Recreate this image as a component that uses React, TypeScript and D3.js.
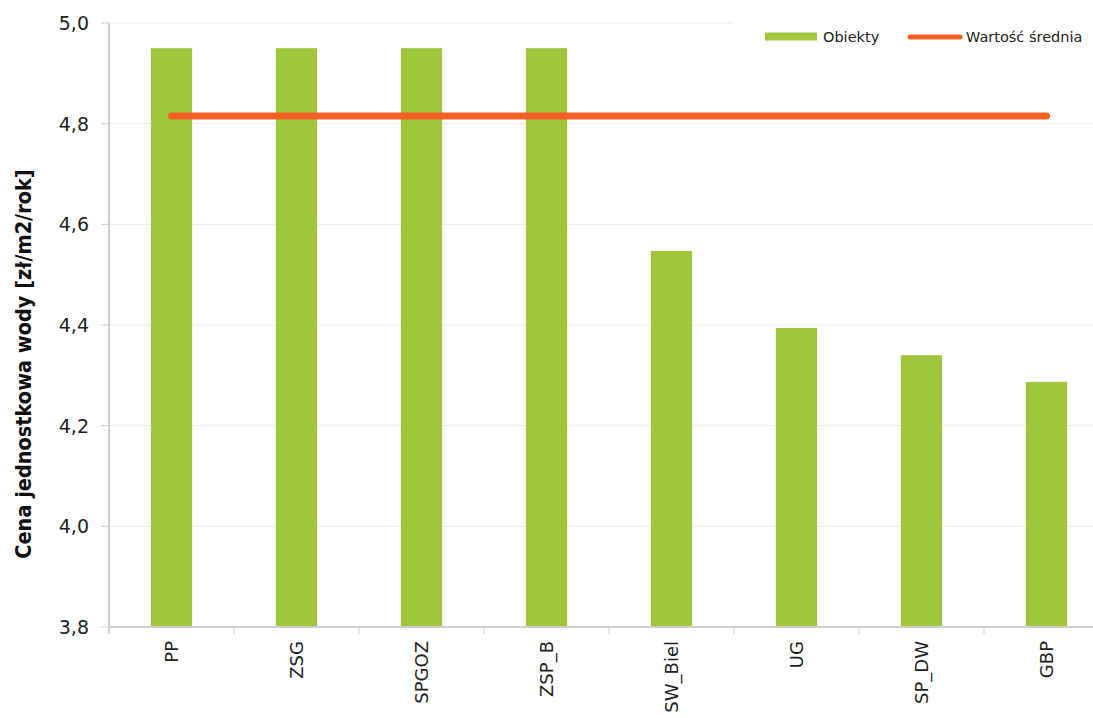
import React from "react";
import * as d3 from "d3";

const categories = ["PP", "ZSG", "SPGOZ", "ZSP_B", "SW_Biel", "UG", "SP_DW", "GBP"];
const objectValues = [4.95, 4.95, 4.95, 4.95, 4.547, 4.394, 4.34, 4.287];
const meanValue = 4.815;
const yTicks = [3.8, 4.0, 4.2, 4.4, 4.6, 4.8, 5.0];
const yTitle = "Cena jednostkowa wody [zł/m2/rok]";
const legendLabels = ["Obiekty", "Wartość średnia"];

const W = 1093;
const H = 718;
const left = 109;
const right = 1109;
const top = 23;
const bottom = 627;
const GREEN = "#A0C63B";
const ORANGE = "#F26125";
const FONT = "'DejaVu Sans', Verdana, sans-serif";

export default function App() {
  const x = d3.scaleBand<string>().domain(categories).range([left, right]).paddingInner(0).paddingOuter(0);
  const y = d3.scaleLinear().domain([3.8, 5.0]).range([bottom, top]);
  const bw = x.bandwidth() * 0.33;
  const fmt = (v: number) => v.toFixed(1).replace(".", ",");
  const meanLine = d3.line<string>()
    .x((c) => (x(c) as number) + x.bandwidth() / 2)
    .y(() => y(meanValue));
  const lineCats = [categories[0], categories[categories.length - 1]];

  return (
    <svg width={W} height={H} style={{ position: "absolute", left: 0, top: 0, background: "#fff" }} fontFamily={FONT}>
      {/* gridlines */}
      {yTicks.filter((t) => t > 3.8).map((t) => (
        <line key={t} x1={left} x2={right} y1={y(t)} y2={y(t)} stroke="#EEEEE8" strokeWidth={1} />
      ))}
      {/* bars */}
      {categories.map((c, i) => (
        <rect key={c} x={(x(c) as number) + x.bandwidth() / 2 - bw / 2} y={y(objectValues[i])}
          width={bw} height={bottom - y(objectValues[i])} fill={GREEN} />
      ))}
      {/* y axis */}
      <line x1={left} x2={left} y1={top} y2={bottom + 7} stroke="#CFCFCF" strokeWidth={2} />
      {yTicks.map((t) => (
        <g key={t}>
          <line x1={left - 8} x2={left} y1={y(t)} y2={y(t)} stroke="#CFCFCF" strokeWidth={1} />
          <text x={89} y={y(t)} textAnchor="end" dominantBaseline="central" fontSize={19} fill="#222">{fmt(t)}</text>
        </g>
      ))}
      {/* x axis */}
      <line x1={left} x2={right} y1={bottom} y2={bottom} stroke="#CFCFCF" strokeWidth={2} />
      {categories.map((c) => (
        <line key={c} x1={x(c) as number} x2={x(c) as number} y1={bottom} y2={bottom + 7} stroke="#CFCFCF" strokeWidth={1} />
      ))}
      {categories.map((c) => {
        const cx = (x(c) as number) + x.bandwidth() / 2;
        return (
          <text key={c} transform={`translate(${cx},${bottom + 14}) rotate(-90)`} textAnchor="end"
            dominantBaseline="central" fontSize={18} fill="#222">{c}</text>
        );
      })}
      {/* mean line */}
      <path d={meanLine(lineCats) as string} stroke={ORANGE} strokeWidth={7} strokeLinecap="round" fill="none" />
      {/* legend */}
      <rect x={733} y={8} width={370} height={48} fill="#fff" />
      <rect x={765} y={32.5} width={52} height={8} fill={GREEN} />
      <text x={823} y={37} dominantBaseline="central" fontSize={14.5} fill="#222">{legendLabels[0]}</text>
      <line x1={910} x2={960} y1={37} y2={37} stroke={ORANGE} strokeWidth={5} strokeLinecap="round" />
      <text x={966} y={37} dominantBaseline="central" fontSize={14.5} fill="#222">{legendLabels[1]}</text>
      {/* y title */}
      <text transform={`translate(23,364) rotate(-90)`} textAnchor="middle"
        dominantBaseline="central" fontSize={21.5} fontWeight="bold" fill="#111"
        fontFamily="'DejaVu Sans Condensed', 'DejaVu Sans', sans-serif">{yTitle}</text>
    </svg>
  );
}
